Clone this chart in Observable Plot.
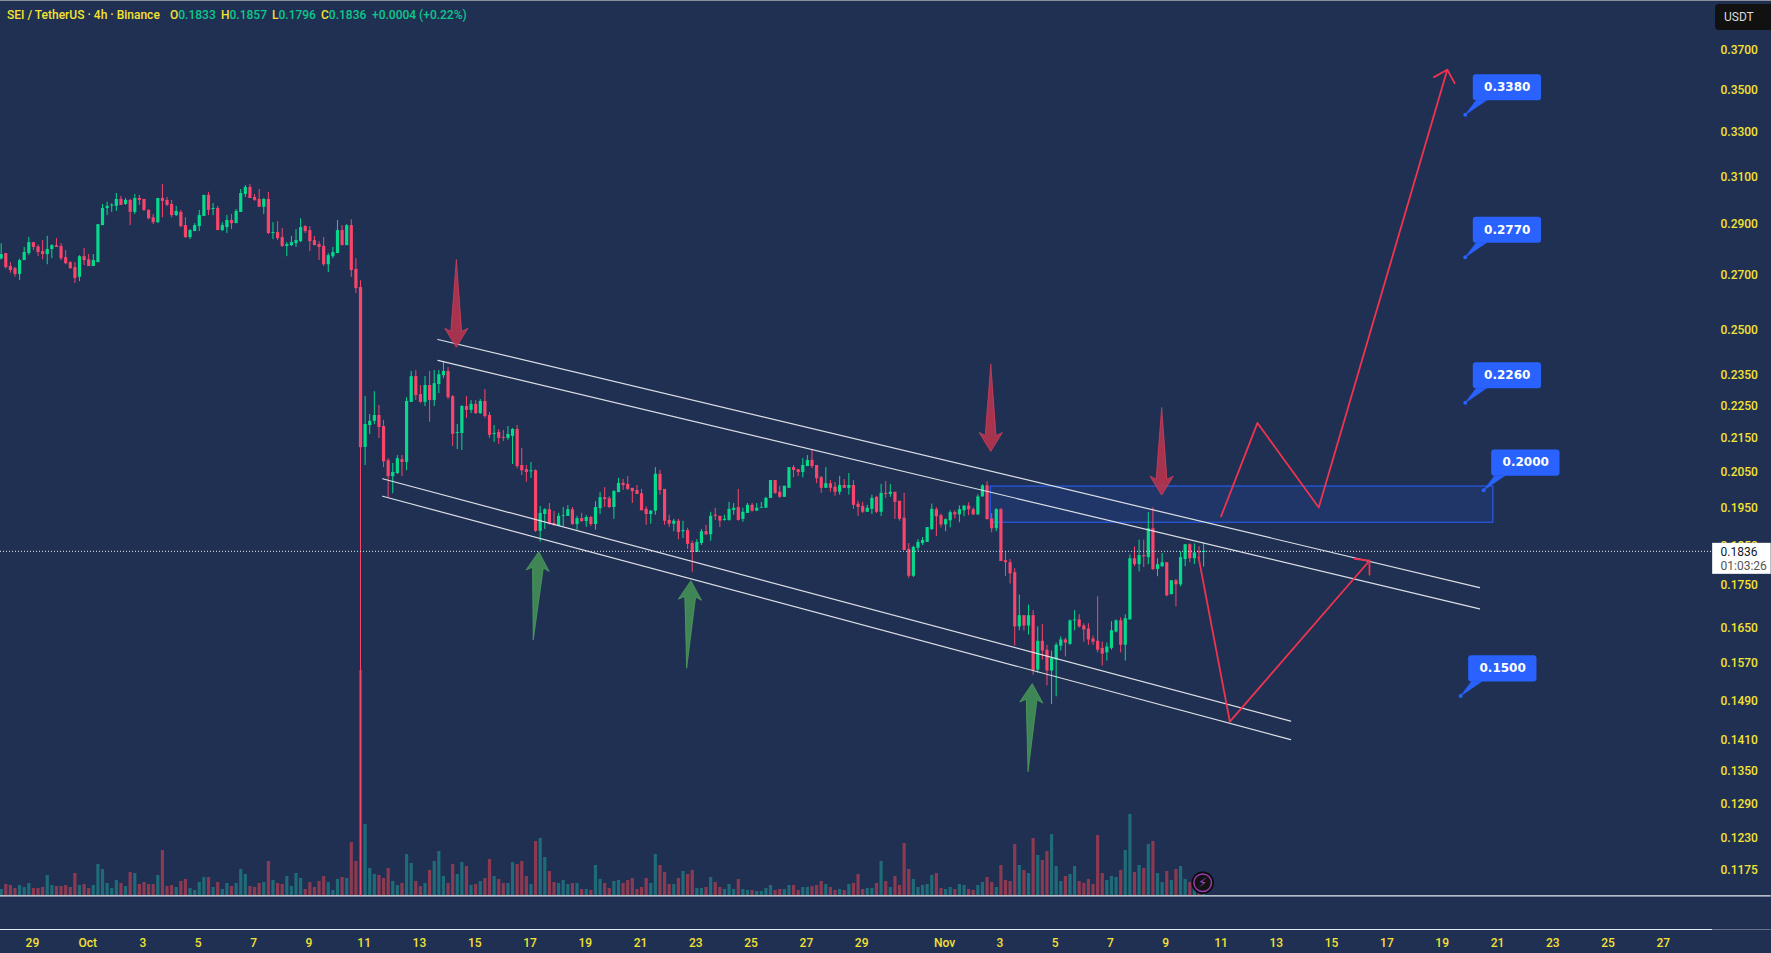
<!DOCTYPE html>
<html>
<head>
<meta charset="utf-8">
<script src="https://cdn.jsdelivr.net/npm/d3@7"></script>
<script src="https://cdn.jsdelivr.net/npm/@observablehq/plot@0.6"></script>
<style>
html,body{margin:0;padding:0;background:#203052;overflow:hidden}
#chart{position:relative;width:1771px;height:953px;background:#203052;border-top:0;overflow:hidden;font-family:Roboto,sans-serif}
#chart svg{position:absolute;left:0;top:0}
#topline{position:absolute;left:0;top:0;width:1771px;height:1px;background:#8b909a}
.hd{position:absolute;top:7px;font-size:12px;line-height:16px;white-space:nowrap;color:#f5e232;font-weight:500}
.hd b{font-weight:500;color:#0bc98c}
#usdt{position:absolute;left:1715px;top:4px;width:60px;height:26px;background:#111;border-radius:4px;color:#dcdcdc;font-size:12px;line-height:26px;text-indent:9px}
</style>
</head>
<body>
<div id="chart"></div>
<script>
// Candles as [open, high, low, close], in 0.0001 USDT, 4h bars
const candlesLateSep = [
[2763,2823,2759,2780],[2784,2784,2725,2730],[2734,2749,2709,2719],[2726,2731,2694,2704],[2704,2762,2681,2757],
[2757,2808,2757,2788],[2784,2847,2777,2827],[2827,2827,2796,2808],[2810,2817,2772,2788],[2792,2835,2760,2780],
[2780,2852,2741,2800],[2800,2819,2764,2815],[2815,2843,2808,2808],[2812,2823,2757,2764],[2768,2796,2741,2745],
[2749,2753,2723,2726],[2730,2749,2670,2689],[2693,2776,2677,2772],[2772,2804,2738,2757],[2760,2780,2734,2734],
[2734,2780,2734,2757],[2749,2899,2749,2899],[2895,2982,2895,2965],[2965,2991,2936,2974],[2975,2985,2949,2979],
[2974,3028,2953,3003],[3003,3016,2978,2978],[2982,3007,2978,2999],[2999,3003,2895,2949],[2949,3024,2940,3007],
[3007,3020,2978,2999],[3003,3003,2953,2957],[2957,2961,2919,2923],[2927,2940,2899,2907],[2907,3007,2903,3007],
[3007,3066,2927,2995],[2999,3011,2974,2978],[2982,2999,2927,2936],[2936,2974,2932,2953],[2949,2957,2887,2891],
[2895,2927,2843,2847],[2847,2879,2839,2875],[2871,2903,2871,2895],[2891,2957,2871,2936],[2932,3020,2932,3020],
[3020,3033,2936,2957],[2961,2986,2936,2965],[2965,2974,2875,2875],[2875,2907,2871,2895],[2887,2936,2863,2916],
[2916,2940,2879,2903],[2903,2961,2903,2953],[2949,3045,2949,3028],[3024,3062,3011,3054],[3054,3066,3007,3007],
[3011,3024,2995,2999],[3003,3045,2970,2970],[2970,3007,2940,3003],[3003,3033,2859,2863],[2863,2907,2839,2867],
[2867,2911,2835,2843],[2847,2883,2808,2812],[2812,2827,2772,2819],[2815,2852,2812,2827],[2823,2879,2808,2835],
[2831,2923,2827,2887],[2891,2895,2863,2871],[2875,2891,2792,2831],[2835,2852,2815,2815],[2819,2831,2757,2808],
[2812,2847,2734,2741],[2741,2784,2711,2776],[2772,2808,2764,2788],[2784,2916,2784,2875],[2875,2895,2815,2815],
[2815,2899,2815,2895],[2895,2919,2693,2719],[2723,2764,2633,2651]];
const candlesMidOct = [
[2655,2680,1134,2122],[2123,2279,2070,2192],[2189,2223,2162,2202],[2202,2295,2192,2220],[2220,2251,2150,2183],
[2186,2205,2064,2081],[2084,2090,1978,2038],[2038,2076,1990,2050],[2047,2099,2044,2090],[2087,2099,2038,2079],
[2079,2276,2055,2264],[2261,2361,2261,2344],[2344,2364,2267,2283],[2286,2315,2258,2261],[2261,2344,2248,2315],
[2315,2361,2199,2267],[2267,2364,2248,2321],[2318,2364,2289,2350],[2347,2394,2337,2361],[2361,2374,2270,2276],
[2279,2283,2126,2162],[2165,2192,2117,2168],[2165,2251,2114,2248],[2248,2279,2211,2236],[2236,2267,2226,2255],
[2255,2267,2223,2226],[2226,2270,2223,2264],[2264,2302,2211,2217],[2220,2229,2150,2159],[2162,2189,2138,2165],
[2168,2177,2132,2150],[2153,2174,2141,2150],[2150,2186,2144,2162],[2156,2180,2073,2177],[2177,2189,2061,2067],
[2070,2120,2041,2055],[2058,2070,2022,2050],[2052,2079,2033,2055],[2055,2058,1885,1888],[1888,1955,1860,1936],
[1933,1949,1893,1946],[1946,1963,1904,1906],[1909,1941,1901,1904],[1901,1936,1901,1928],[1928,1952,1901,1930],
[1928,1957,1928,1946],[1946,1952,1904,1906],[1906,1928,1891,1922],[1922,1936,1912,1914],[1914,1930,1899,1925],
[1925,1928,1901,1906],[1906,1968,1891,1952],[1949,1993,1933,1979],[1979,2007,1952,1974],[1976,1982,1949,1952],
[1952,1999,1920,1996],[1993,2033,1993,2019],[2019,2030,1999,2013],[2016,2038,1999,2002],[2005,2005,1963,1996],
[1999,2013,1988,1988],[1990,2002,1943,1943]];
const candlesLateOct = [
[1947,1954,1904,1933],[1933,1944,1907,1942],[1942,2064,1931,2045],[2045,2056,1986,1999],[2002,2002,1904,1915],
[1917,1931,1898,1907],[1907,1920,1887,1915],[1915,1920,1866,1885],[1887,1915,1869,1890],[1890,1896,1841,1854],
[1856,1862,1783,1833],[1833,1866,1833,1859],[1856,1893,1851,1887],[1887,1904,1877,1879],[1879,1939,1862,1928],
[1931,1950,1917,1928],[1928,1928,1898,1915],[1917,1931,1915,1920],[1917,1966,1915,1947],[1944,1963,1931,1950],
[1952,2002,1915,1917],[1920,1950,1912,1939],[1936,1963,1936,1958],[1958,1963,1939,1942],[1942,1963,1942,1950],
[1950,1966,1950,1952],[1950,1980,1950,1977],[1977,2027,1977,2027],[2027,2027,1988,1991],[1994,2011,1977,1980],
[1980,2011,1980,2011],[2005,2064,2005,2064],[2064,2070,2035,2056],[2058,2058,2039,2050],[2050,2090,2035,2070],
[2067,2099,2067,2085],[2085,2117,2061,2067],[2070,2070,2018,2032],[2035,2039,1991,2005],[2005,2064,2005,2018],
[2018,2027,1994,2005],[2008,2021,1983,1994],[1994,2039,1986,2013],[2013,2030,2005,2005],[2005,2047,1986,2013],
[2013,2027,1947,1958],[1961,1969,1928,1952],[1955,1966,1936,1939],[1939,1958,1939,1950],[1947,1986,1933,1977],
[1980,1983,1936,1939],[1939,2016,1928,1991],[1991,2024,1977,1988],[1988,2016,1980,1994],[1994,1994,1920,1966],
[1969,1969,1915,1920],[1923,1991,1838,1838],[1841,1856,1768,1773],[1773,1849,1770,1846],[1844,1866,1836,1859],
[1856,1872,1851,1864],[1859,1898,1859,1898],[1893,1961,1890,1947]];
const candlesNov = [
[1946,1951,1874,1927],[1930,1934,1897,1905],[1905,1921,1887,1919],[1916,1943,1897,1938],[1938,1943,1921,1932],
[1932,1956,1911,1946],[1943,1956,1927,1956],[1956,1965,1930,1946],[1946,1951,1930,1932],[1932,1987,1930,1981],
[1981,2015,1981,2012],[2012,2024,1919,1919],[1921,1935,1884,1895],[1895,1949,1887,1946],[1946,1949,1810,1810],
[1812,1835,1772,1807],[1807,1815,1754,1779],[1782,1792,1608,1652],[1652,1727,1643,1678],[1678,1678,1643,1654],
[1654,1703,1633,1678],[1678,1690,1544,1553],[1555,1652,1548,1619],[1619,1657,1577,1597],[1599,1610,1521,1553],
[1553,1597,1482,1581],[1577,1615,1498,1610],[1608,1629,1597,1622],[1622,1626,1584,1615],[1612,1668,1610,1666],
[1666,1690,1643,1668],[1668,1680,1649,1652],[1654,1659,1617,1645],[1647,1659,1610,1622],[1624,1631,1610,1617],
[1619,1723,1593,1599],[1603,1617,1564,1590],[1593,1615,1575,1606],[1603,1664,1599,1643],[1640,1668,1638,1666],
[1666,1673,1593,1610],[1610,1680,1575,1671],[1668,1827,1668,1817],[1817,1847,1797,1802],[1802,1865,1784,1825],
[1825,1865,1795,1822],[1820,1938,1802,1895],[1895,1951,1787,1790],[1790,1817,1772,1802],[1797,1830,1795,1807],
[1807,1807,1723,1725],[1728,1762,1728,1762],[1762,1765,1699,1752],[1752,1835,1747,1820],[1815,1853,1797,1853],
[1853,1855,1807,1817],[1817,1855,1802,1832],[1835,1848,1817,1832],[1833,1857,1796,1836]];
// Volume per bar (chart units)
const volumes = [
18,33,30,21,30,24,36,21,21,24,60,30,27,27,30,24,66,30,33,21,30,93,78,36,21,45,36,27,69,66,
33,39,33,33,60,135,27,30,24,42,48,21,15,39,54,54,24,39,18,36,27,36,78,63,27,24,36,39,102,45,
36,33,57,27,66,51,18,39,24,42,57,39,15,48,54,51,159,102,675,213,81,63,60,51,81,42,30,36,123,96,
42,27,36,75,102,132,57,36,93,63,99,87,30,33,42,51,108,57,48,36,36,99,93,102,57,33,162,171,114,72,
39,36,45,33,36,36,18,18,15,90,48,36,21,42,45,36,45,51,18,24,51,36,123,90,69,33,33,51,72,63,
75,21,21,24,54,39,24,18,33,18,48,18,15,15,12,12,21,30,15,18,18,30,30,15,24,24,27,30,42,33,
24,15,18,15,33,36,63,18,21,21,36,102,42,24,57,30,156,78,48,24,30,33,60,66,21,18,24,18,33,30,
18,15,30,39,54,39,24,90,45,42,153,90,75,66,171,120,105,132,183,87,42,57,63,87,42,36,48,33,180,66,
45,57,54,75,135,243,69,90,81,153,162,66,39,72,45,78,87,48,39,24,5,5];

const tickDayOffsets = [0,2,4,6,8,10,12,14,16,18,20,22,24,26,28,30,33,35,37,39,41,43,45,47,49,51,53,55,57,59];
const tickLabels = ["29","Oct","3","5","7","9","11","13","15","17","19","21","23","25","27","29","Nov","3","5","7","9","11","13","15","17","19","21","23","25","27"];
const priceTicks = [0.37,0.35,0.33,0.31,0.29,0.27,0.25,0.235,0.225,0.215,0.205,0.195,0.185,0.175,0.165,0.157,0.149,0.141,0.135,0.129,0.123,0.1175];

const lastPrice = 0.1836;
const channels = [
 {id:"upper1",bars:[94.8,320.9],prices:[0.2469,0.1745]},
 {id:"upper2",bars:[94.8,320.9],prices:[0.2398,0.1694]},
 {id:"lower1",bars:[82.8,279.9],prices:[0.2032,0.1448]},
 {id:"lower2",bars:[82.8,279.9],prices:[0.1983,0.1411]}];
const zoneBars = [214.8,323.9];
const zonePrices = [0.1911,0.2010];
const calloutValues = [0.338,0.277,0.226,0.2,0.15];
const calloutBars = [317.8,317.8,317.8,321.8,316.8];
const redArrows = [
 {tail:[98.8,0.2760],tip:[98.8,0.2442]},
 {tail:[214.8,0.2384],tip:[214.8,0.2111]},
 {tail:[251.9,0.2244],tip:[251.9,0.1986]}];
const greenArrows = [
 {tail:[115.5,0.1623],tip:[116.7,0.1835]},
 {tail:[148.8,0.1560],tip:[149.7,0.1762]},
 {tail:[222.9,0.1350],tip:[223.8,0.1526]}];
const pathUp = {bars:[264.8,272.7,286,313.9],prices:[0.1928,0.2197,0.1952,0.3600]};
const pathUpHead = {bars:[311,313.9,315.5],prices:[0.3563,0.3600,0.3533]};
const pathDown = {bars:[259.9,266.7,297],prices:[0.1821,0.1447,0.1812]};
const pathDownHead = {bars:[293.8,297,297],prices:[0.1817,0.1812,0.1777]};

// Layout of the time and price scales
const firstBar = -0.145, lastBar = 373.2, barPx = 4.607, pxPerLog = 715;
const t0 = Date.UTC(2025,8,29);
const barDate = i => new Date(t0 + (i-7)*4*3600e3);
const shift = (bar,price,dx,dy) => ({x:barDate(bar+dx/barPx), y:price*Math.exp(-dy/pxPerLog)});

const rows = [...candlesLateSep,...candlesMidOct,...candlesLateOct,...candlesNov];
const bars = rows.map((r,i)=>({t:barDate(i),o:r[0]/1e4,h:r[1]/1e4,l:r[2]/1e4,c:r[3]/1e4,v:volumes[i]||0,up:r[3]>=r[0]}));
const tickDates = tickDayOffsets.map(d=>barDate(7+d*6));

const up="#06d98c",down="#f7456b",yellow="#f5e232",blue="#2962ff";
const xScale={type:"utc",domain:[barDate(firstBar),barDate(lastBar)],axis:null};

function poly(id,pts){return pts.map(p=>({id,...p}));}
function arrowShape(a,id){
  const dx=(a.tip[0]-a.tail[0])*barPx, dy=-Math.log(a.tip[1]/a.tail[1])*pxPerLog;
  const L=Math.hypot(dx,dy),ux=dx/L,uy=dy/L,nx=-uy,ny=ux;
  const at=(back,side)=>shift(a.tip[0],a.tip[1],-ux*back+nx*side,-uy*back+ny*side);
  return poly(id,[shift(a.tail[0],a.tail[1],0,0),at(16,5.5),at(19,11.6),at(0,0),at(19,-11.6),at(16,-5.5)]);
}
const redPts=redArrows.flatMap((a,i)=>arrowShape(a,"r"+i));
const greenPts=greenArrows.flatMap((a,i)=>arrowShape(a,"g"+i));
const channelPts=channels.flatMap(c=>c.bars.map((b,i)=>({id:c.id,x:barDate(b),y:c.prices[i]})));
const toPts=(p,id)=>p.bars.map((b,i)=>({id,x:barDate(b),y:p.prices[i]}));
const pathPts=[...toPts(pathUp,"u"),...toPts(pathUpHead,"uh"),...toPts(pathDown,"d"),...toPts(pathDownHead,"dh")];
const callouts=calloutValues.map((v,i)=>({v,bar:calloutBars[i]}));
const boxes=callouts.map(c=>{const a=shift(c.bar,c.v,8,-40),b=shift(c.bar,c.v,76.3,-14);return {x1:a.x,x2:b.x,y1:b.y,y2:a.y};});
const labels=callouts.map(c=>({...shift(c.bar,c.v,42,-27.5),text:c.v.toFixed(4)}));
const tails=callouts.flatMap((c,i)=>poly("t"+i,[shift(c.bar,c.v,11,-14.5),shift(c.bar,c.v,21.3,-14.5),shift(c.bar,c.v,0,0)]));
const dots=callouts.map(c=>({x:barDate(c.bar),y:c.v}));

const axisEndBar=371.5, chartEndBar=384.2;
const priceBox=shift(axisEndBar,lastPrice,0,-8), priceBox2=shift(chartEndBar,lastPrice,0,23);
const paneBottom=0.1134, axisBottom=0.1082;
const bolt=shift(260.8,0.1155,0,0);

const volumePlot=Plot.plot({
  width:1771,height:953,marginLeft:0,marginRight:51,marginTop:0,marginBottom:58,
  style:{background:"transparent"},
  x:xScale,y:{domain:[0,2685],axis:null},
  marks:[Plot.ruleX(bars,{x:"t",y1:0,y2:"v",strokeWidth:3.2,stroke:d=>d.up?"#1f6b78":"#8b3a52"})]
});

const mainPlot=Plot.plot({
  width:1771,height:953,marginLeft:0,marginRight:51,marginTop:0,marginBottom:24,
  style:{background:"transparent",fontFamily:"Roboto,sans-serif"},
  x:xScale,
  y:{type:"log",domain:[axisBottom,0.3966]},
  marks:[
    Plot.ruleY([paneBottom],{x1:barDate(firstBar),x2:barDate(chartEndBar),stroke:"#e8eaee",strokeWidth:1.2}),
    Plot.ruleY([axisBottom],{x1:barDate(firstBar),x2:barDate(axisEndBar),stroke:"#e8eaee",strokeWidth:1.2}),
    Plot.ruleY([axisBottom],{x1:barDate(axisEndBar),x2:barDate(chartEndBar),stroke:"#6a7388",strokeWidth:1}),
    Plot.axisY(priceTicks,{anchor:"right",tickSize:0,tickPadding:0,tickFormat:d=>d.toFixed(4),label:null,fill:yellow,fontSize:12,fontWeight:500}),
    Plot.axisX(tickDates,{anchor:"bottom",tickSize:0,tickPadding:9,dx:-1,tickFormat:(d,i)=>tickLabels[i],label:null,fill:yellow,fontSize:12,fontWeight:500}),
    Plot.rect([0],{x1:barDate(zoneBars[0]),x2:barDate(zoneBars[1]),y1:zonePrices[0],y2:zonePrices[1],fill:blue,fillOpacity:0.13,stroke:blue,strokeWidth:1}),
    Plot.ruleX(bars,{x:"t",y1:"l",y2:"h",stroke:d=>d.up?up:down,strokeWidth:1}),
    Plot.ruleX(bars,{x:"t",y1:"o",y2:"c",stroke:d=>d.up?up:down,strokeWidth:3.2}),
    Plot.line(channelPts,{x:"x",y:"y",z:"id",stroke:"#e6e8ec",strokeWidth:1.2,strokeOpacity:0.95}),
    Plot.line(redPts,{x:"x",y:"y",z:"id",curve:"linear-closed",fill:"#c0344f",fillOpacity:0.85,stroke:"#c9405c",strokeOpacity:0.8,strokeWidth:1}),
    Plot.line(greenPts,{x:"x",y:"y",z:"id",curve:"linear-closed",fill:"#438f55",fillOpacity:0.9,stroke:"#4d9c5e",strokeOpacity:0.8,strokeWidth:1}),
    Plot.line(pathPts,{x:"x",y:"y",z:"id",stroke:"#ee3450",strokeWidth:1.8}),
    Plot.ruleY([lastPrice],{x1:barDate(firstBar),x2:barDate(axisEndBar),stroke:"#e8eaee",strokeWidth:1,strokeDasharray:"1 2"}),
    Plot.rect([0],{x1:priceBox.x,x2:priceBox2.x,y1:priceBox2.y,y2:priceBox.y,fill:"#ffffff"}),
    Plot.text([lastPrice.toFixed(4)],{x:barDate(373.2),y:lastPrice,dy:0.5,text:d=>d,textAnchor:"start",fill:"#131722",fontSize:12}),
    Plot.text(["01:03:26"],{x:barDate(373.2),y:lastPrice,dy:14.5,text:d=>d,textAnchor:"start",fill:"#555",fontSize:12}),
    Plot.line(tails,{x:"x",y:"y",z:"id",curve:"linear-closed",fill:blue,stroke:blue,strokeWidth:0.5}),
    Plot.rect(boxes,{x1:"x1",x2:"x2",y1:"y1",y2:"y2",fill:blue,rx:3}),
    Plot.dot(dots,{x:"x",y:"y",r:2,fill:blue}),
    Plot.text(labels,{x:"x",y:"y",text:"text",fill:"#fff",fontSize:12,fontWeight:700,fontFamily:"DejaVu Sans"}),
    Plot.dot([bolt],{x:"x",y:"y",r:10.5,fill:"#131313",stroke:"#0b0b0b",strokeWidth:1.5}),
    Plot.dot([bolt],{x:"x",y:"y",r:8.8,fill:"none",stroke:"#9c3ab5",strokeWidth:1.5}),
    Plot.text([bolt],{x:"x",y:"y",text:()=>"⚡",fill:"#a845c4",fontSize:13,fontFamily:"DejaVu Sans"})
  ]
});

const chart=document.getElementById("chart");
chart.append(volumePlot,mainPlot);
const add=(cls,left,html,id)=>{const e=document.createElement("div");if(cls)e.className=cls;if(id)e.id=id;if(left!=null)e.style.left=left+"px";e.innerHTML=html;chart.append(e);};
add(null,null,"","topline");
add("hd",7,"SEI / TetherUS · 4h · Binance");
add("hd",170,"O<b>0.1833</b>");
add("hd",221,"H<b>0.1857</b>");
add("hd",272,"L<b>0.1796</b>");
add("hd",321,"C<b>0.1836</b>");
add("hd",372,"<b>+0.0004 (+0.22%)</b>");
add(null,null,"USDT","usdt");
</script>
</body>
</html>
